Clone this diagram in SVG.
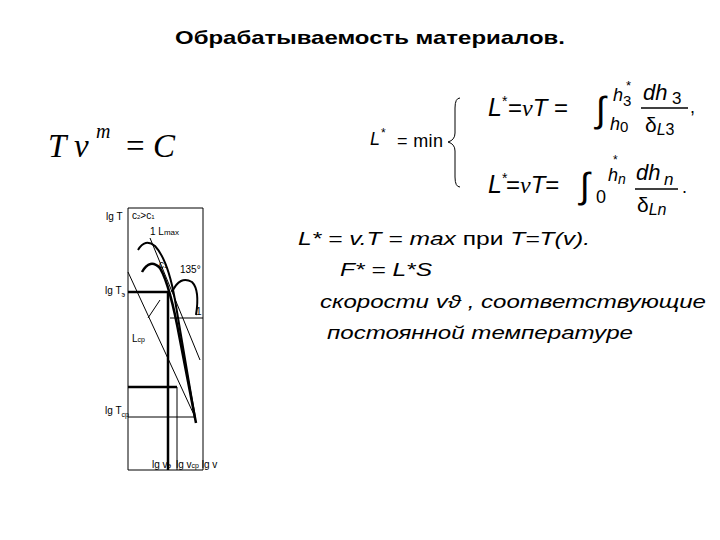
<svg xmlns="http://www.w3.org/2000/svg" width="720" height="540" viewBox="0 0 720 540">
<style>
.s{font-family:"Liberation Sans",Arial,sans-serif;fill:#000}
.it{font-style:italic}
.ser{font-family:"Liberation Serif","Times New Roman",serif}
.g{stroke:#000;fill:none}
.t{font-family:"Liberation Sans",Arial,sans-serif;font-size:10px}
</style>
<rect width="720" height="540" fill="#fff"/>
<text class="s" x="175" y="44" font-size="19" font-weight="bold" textLength="390" lengthAdjust="spacingAndGlyphs">Обрабатываемость материалов.</text>
<g id="eq1"><text class="ser it" x="48" y="157" font-size="33">T v</text><text class="ser it" x="96" y="138" font-size="20">m</text><text class="ser" x="126" y="157" font-size="33">= <tspan font-style="italic">C</tspan></text></g>
<g id="eq2">
<text class="s it" x="370" y="145" font-size="18">L</text><text class="s" x="381" y="137" font-size="12">*</text>
<text class="s" x="397" y="147" font-size="18" textLength="46">= min</text>
<path class="g" d="M460 98 Q455 98 455 108 L455 133 Q455 140 448 142 Q455 144 455 151 L455 177 Q455 187 460 187" stroke-width="1"/>
<text class="s it" x="488" y="116" font-size="25">L</text><text class="s" x="502" y="106" font-size="14">*</text>
<text class="s" x="508" y="116" font-size="24">=<tspan class="ser it">v</tspan><tspan font-style="italic">T</tspan> =</text>
<text class="s" x="596" y="122" font-size="36">∫</text>
<text class="s it" x="613" y="101" font-size="18">h</text><text class="s" x="623" y="106" font-size="15">3</text><text class="s" x="626" y="90" font-size="13">*</text>
<text class="s it" x="610" y="130" font-size="18">h</text><text class="s" x="620" y="132" font-size="15">0</text>
<text class="s it" x="643" y="100" font-size="22">dh</text><text class="s" x="672" y="104" font-size="17">3</text>
<line class="g" x1="641" y1="108" x2="688" y2="108" stroke-width="1.3"/>
<text class="s" x="645" y="132" font-size="21">δ<tspan class="it" font-size="16" dy="3">L</tspan><tspan font-size="16">3</tspan></text>
<text class="s" x="690" y="113" font-size="18">,</text>
<text class="s it" x="488" y="193" font-size="25">L</text><text class="s" x="502" y="183" font-size="14">*</text>
<text class="s" x="506" y="193" font-size="24">=<tspan class="ser it">v</tspan><tspan font-style="italic">T</tspan>=</text>
<text class="s" x="580" y="198" font-size="36">∫</text>
<text class="s it" x="608" y="181" font-size="18">h</text><text class="s it" x="618" y="184" font-size="14">n</text><text class="s" x="613" y="164" font-size="12">*</text>
<text class="s" x="596" y="203" font-size="18">0</text>
<text class="s it" x="636" y="180" font-size="22">dh</text><text class="s it" x="664" y="185" font-size="17">n</text>
<line class="g" x1="635" y1="189" x2="678" y2="189" stroke-width="1.3"/>
<text class="s" x="637" y="212" font-size="21">δ<tspan class="it" font-size="16" dy="3">Ln</tspan></text>
<text class="s" x="682" y="193" font-size="18">.</text>
</g>
<g id="text" class="s" font-size="19">
<text class="it" x="298" y="245" textLength="292" lengthAdjust="spacingAndGlyphs">L* = v.T = max <tspan font-style="normal"> при </tspan>T=T(v).</text>
<text class="it" x="340" y="276" textLength="92" lengthAdjust="spacingAndGlyphs">F* = L*S</text>
<text class="it" x="320" y="308" textLength="386" lengthAdjust="spacingAndGlyphs">скорости vϑ , соответствующие</text>
<text class="it" x="327" y="339" textLength="306" lengthAdjust="spacingAndGlyphs">постоянной температуре</text>
</g>
<g id="graph">
<line class="g" x1="128" y1="208" x2="128" y2="470"/>
<line class="g" x1="203" y1="208" x2="203" y2="470"/>
<line class="g" x1="128" y1="208" x2="203" y2="208"/>
<line class="g" x1="128" y1="470" x2="203" y2="470"/>
<line class="g" x1="128" y1="292" x2="168" y2="292" stroke-width="2.5"/>
<line class="g" x1="168" y1="292" x2="168" y2="470" stroke-width="2.5"/>
<line class="g" x1="128" y1="387" x2="177" y2="387" stroke-width="2.5"/>
<line class="g" x1="177" y1="387" x2="177" y2="470"/>
<line class="g" x1="128" y1="417" x2="195" y2="417"/>
<line class="g" x1="170" y1="318" x2="203" y2="318"/>
<line class="g" x1="128" y1="272" x2="195" y2="417"/>
<line class="g" x1="150" y1="238" x2="200" y2="360"/>
<path class="g" d="M138 250 Q145 238 155 246 Q168 260 175 300 L195 418" stroke-width="2"/>
<path class="g" d="M142 272 Q150 258 160 268 Q170 285 180 340 L196 423" stroke-width="2.5"/>
<path class="g" d="M172 292 Q180 275 192 282 Q200 290 196 315" stroke-width="2"/>
<line class="g" x1="148" y1="318" x2="160" y2="300"/>
<text class="t" x="106" y="220">lg T</text>
<text class="t" x="105" y="294">lg T<tspan font-size="7" dy="3">э</tspan></text>
<text class="t" x="105" y="414">lg T<tspan font-size="7" dy="3">ср</tspan></text>
<text class="t" x="132" y="219">c<tspan font-size="6">2</tspan>&gt;c<tspan font-size="6">1</tspan></text>
<text class="t" x="150" y="235">1 L<tspan font-size="8">max</tspan></text>
<text class="t" x="159" y="268">c<tspan font-size="6">1</tspan></text>
<text class="t" x="180" y="273">135°</text>
<text class="t" x="196" y="315">1</text>
<text class="t" x="132" y="342">L<tspan font-size="7">ср</tspan></text>
<text class="t" x="152" y="468">lg v<tspan font-size="7">э</tspan></text>
<text class="t" x="176" y="468">lg v<tspan font-size="7">ср</tspan> lg v</text>
</g>
</svg>
